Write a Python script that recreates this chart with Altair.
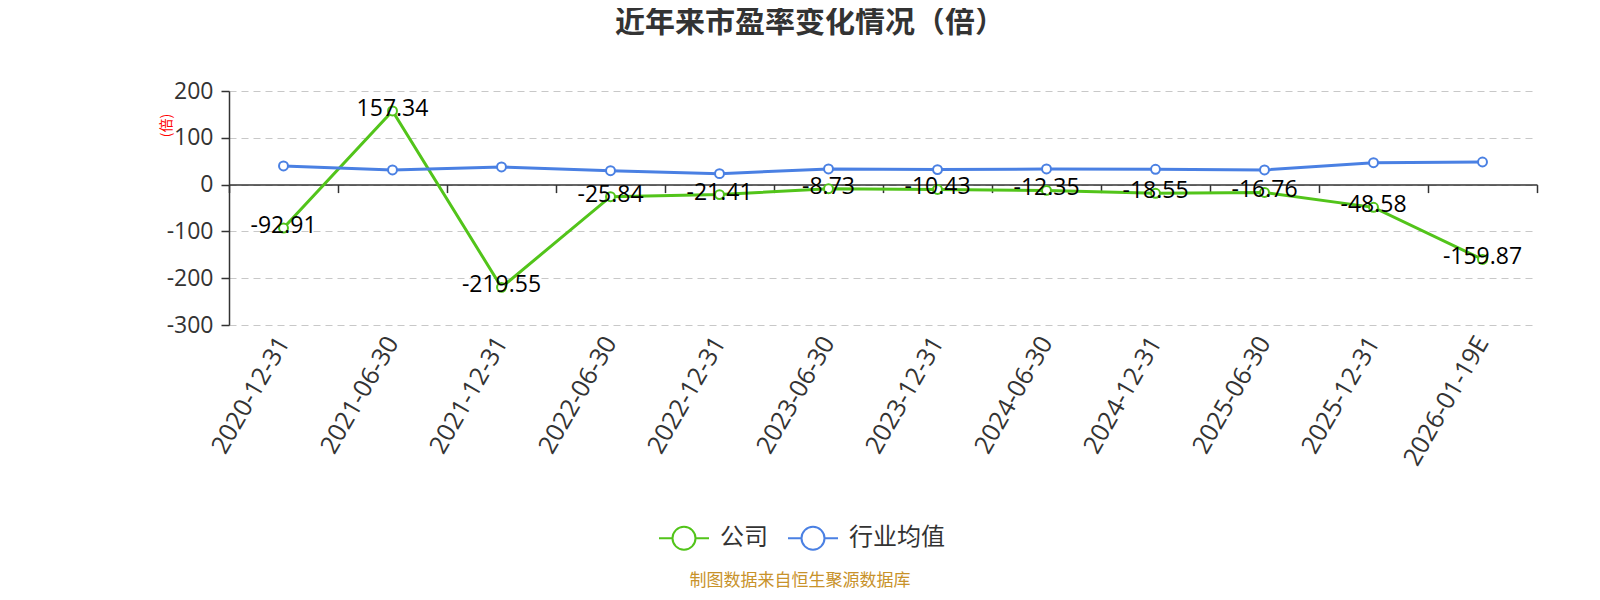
import altair as alt
import pandas as pd

dates = ["2020-12-31", "2021-06-30", "2021-12-31", "2022-06-30", "2022-12-31",
         "2023-06-30", "2023-12-31", "2024-06-30", "2024-12-31", "2025-06-30",
         "2025-12-31", "2026-01-19E"]
company = [-92.91, 157.34, -219.55, -25.84, -21.41, -8.73, -10.43, -12.35,
           -18.55, -16.76, -48.58, -159.87]
industry = [39.8, 31.3, 37.7, 29.8, 23.4, 33.4, 32.0, 33.4, 32.7, 31.3, 46.8, 48.3]
series_names = ["公司", "行业均值"]
colors = ["#52c41a", "#4a80e3"]

FONT = "Noto Sans CJK SC"
NUMFONT = "Open Sans"
W, H = 1308, 234

rows = []
for d, c, i in zip(dates, company, industry):
    rows.append({"date": d, "series": series_names[0], "value": c})
    rows.append({"date": d, "series": series_names[1], "value": i})
df = pd.DataFrame(rows)
df_company = pd.DataFrame({"date": dates, "value": company,
                           "label": [f"{v:.2f}" for v in company]})

xscale = alt.Scale(type="band", paddingInner=0, paddingOuter=0, domain=dates)
yscale = alt.Scale(domain=[-300, 200], nice=False, zero=False)

x_labels = alt.X("date:N", scale=xscale, sort=dates, bandPosition=0.5,
                 axis=alt.Axis(title=None, orient="bottom", labelAngle=-60,
                               labelFontSize=25, labelColor="#333", labelFont=NUMFONT,
                               labelPadding=13, ticks=False, domain=False, grid=False,
                               labelAlign="right", labelBaseline="middle"))
x_zero = alt.X("date:N", scale=xscale, sort=dates, bandPosition=0.5,
               axis=alt.Axis(title=None, orient="bottom", labels=False, ticks=True,
                             tickBand="extent", tickSize=8, tickColor="#333",
                             tickWidth=1.5, domain=True, domainColor="#333",
                             domainWidth=1.5, grid=False, offset=-H * 300 / 500))
x_plain = alt.X("date:N", scale=xscale, sort=dates, bandPosition=0.5, axis=None)
y_enc = alt.Y("value:Q", scale=yscale,
              axis=alt.Axis(title="(倍)", titleColor="red", titleFontSize=14,
                            titleFont=FONT, titleFontWeight="normal",
                            titleX=-63, titleY=34, titleAngle=-90,
                            titleAlign="center", titleBaseline="middle",
                            values=[-300, -200, -100, 0, 100, 200],
                            labelExpr="toString(datum.value)",
                            labelFontSize=23, labelColor="#333", labelFont=NUMFONT,
                            labelPadding=8, tickSize=8, tickColor="#333",
                            tickWidth=1.5, domainColor="#333", domainWidth=1.5,
                            grid=True, gridColor="#c8c8c8", gridDash=[7, 5],
                            gridWidth=1.2))

legend_path = ("M-1,0 L-0.46,0 M0.46,0 L1,0 "
               "M-0.46,0 A0.46,0.46 0 1,0 0.46,0 A0.46,0.46 0 1,0 -0.46,0 Z")

lines = alt.Chart(df).mark_line(strokeWidth=3).encode(
    x=x_labels,
    y=y_enc,
    color=alt.Color("series:N", sort=series_names,
                    scale=alt.Scale(domain=series_names, range=colors),
                    legend=alt.Legend(title=None, orient="none", direction="horizontal",
                                      legendX=429, legendY=421,
                                      symbolType=legend_path, symbolSize=2500,
                                      symbolStrokeWidth=2, symbolFillColor="white",
                                      labelFontSize=24, labelColor="#333",
                                      labelFont=FONT, labelOffset=10,
                                      columnPadding=16)),
)

zero_axis = alt.Chart(df).mark_point(opacity=0).encode(x=x_zero, y=y_enc)

points = alt.Chart(df).mark_point(shape="circle", fill="white", fillOpacity=1,
                                  filled=False, size=80, strokeWidth=2,
                                  opacity=1).encode(
    x=x_plain,
    y=y_enc,
    stroke=alt.Stroke("series:N", scale=alt.Scale(domain=series_names, range=colors),
                      legend=None),
)

labels = alt.Chart(df_company).mark_text(fontSize=23, color="#000", font=NUMFONT,
                                         dy=-2, align="center",
                                         baseline="middle").encode(
    x=x_plain,
    y=y_enc,
    text="label:N",
)

footer = alt.Chart(pd.DataFrame({"t": ["制图数据来自恒生聚源数据库"]})).mark_text(
    fontSize=17, color="#c8922a", font=FONT, align="center", baseline="middle"
).encode(x=alt.value(571), y=alt.value(490), text="t:N")

chart = alt.layer(lines, zero_axis, points, labels, footer).resolve_axis(
    x="independent"
).properties(
    width=W, height=H,
    title=alt.Title("近年来市盈率变化情况（倍）", fontSize=30, font=FONT,
                    fontWeight="bold", color="#333", anchor="middle",
                    frame="group", offset=18, dx=-73, baseline="alphabetic"),
    autosize=alt.AutoSizeParams(type="none"),
    padding={"left": 221, "top": 83, "right": 55, "bottom": 267},
).configure(background="white").configure_view(strokeWidth=0, stroke="transparent")

chart.save("out.html", embed_options={"renderer": "svg", "actions": False})
